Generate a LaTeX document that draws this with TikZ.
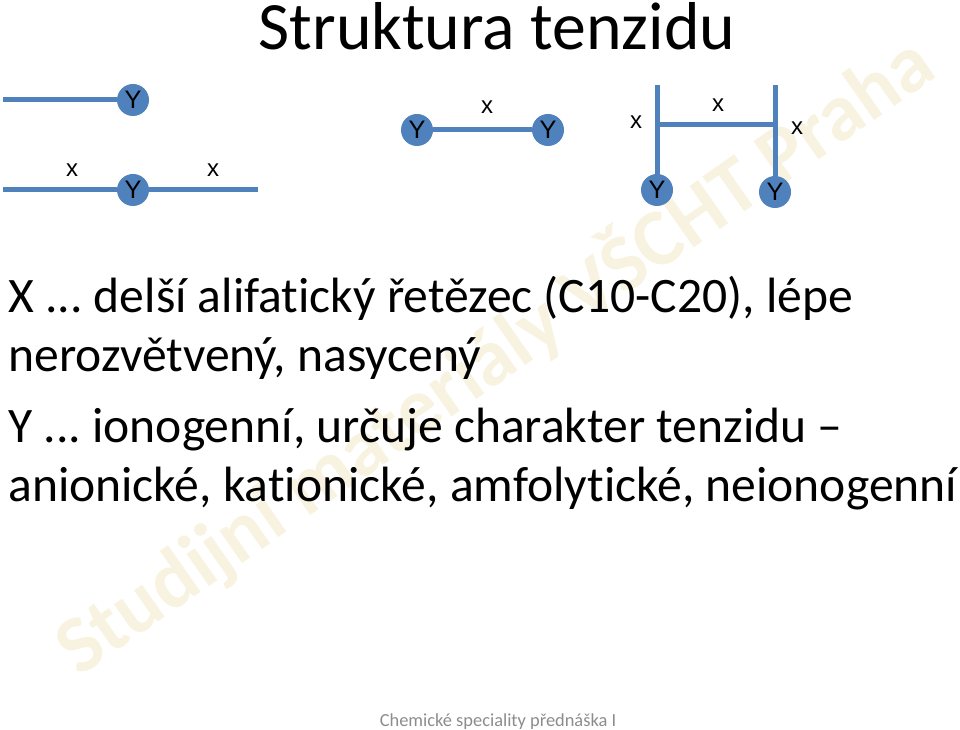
\documentclass[tikz,border=0pt]{standalone}
\usepackage{fontspec}
\setmainfont{Carlito}[Ligatures=NoCommon]
\newfontfamily\arialfont{Liberation Sans}
\usepackage{xcolor}
\usepackage{tikz}
\definecolor{chainblue}{HTML}{4F81BD}
\definecolor{stampyellow}{RGB}{248,243,224}
\definecolor{footgray}{RGB}{140,140,140}
\tikzset{>=stealth}
\tikzset{
  chain/.style={line width=3.75pt, chainblue},
  ybead/.style={circle, fill=chainblue, minimum size=24, inner sep=0pt, font=\arialfont\fontsize{19}{19}\selectfont},
  xlabel/.style={inner sep=0pt, font=\arialfont\fontsize{18}{18}\selectfont},
  bodyline/.style={anchor=base west, inner sep=0pt, font=\fontsize{37.2}{44}\selectfont}
}
\frenchspacing

\begin{document}
\begin{tikzpicture}[x=0.75pt, y=-0.75pt]
        \useasboundingbox (0,0) rectangle (960,730);
        % watermark
        \node[rotate=35, stampyellow, inner sep=0pt, font=\bfseries\fontsize{61}{64}\selectfont] (stamp) at (494,355) {Studijní materiály VŠCHT Praha};

        % title
        \node[anchor=base, inner sep=0pt, font=\fontsize{50.8}{60}\selectfont] (title) at (497,50) {Struktura tenzidu};

        % X-Y (single tail)
        \coordinate (tailA) at (3,100);
        \node[ybead] (headA) at (133,100) {Y};
        \draw [chain] (tailA) -- (headA);

        % X-Y-X
        \coordinate (tailB1) at (3,190);
        \coordinate (tailB2) at (258,190);
        \node[ybead] (headB) at (133,190) {Y};
        \draw [chain] (tailB1) -- (headB) -- (tailB2);
        \node[xlabel] (xB1) at (72,170) {x};
        \node[xlabel] (xB2) at (213,170) {x};

        % Y-X-Y
        \node[ybead] (headC1) at (417,130) {Y};
        \node[ybead] (headC2) at (548,130) {Y};
        \draw [chain] (headC1) -- (headC2);
        \node[xlabel] (xC) at (487,107) {x};

        % H shape
        \coordinate (topD1) at (657,85);
        \coordinate (topD2) at (775,85);
        \coordinate (midD1) at (657,125);
        \coordinate (midD2) at (775,125);
        \node[ybead] (headD1) at (657,190) {Y};
        \node[ybead] (headD2) at (775,192) {Y};
        \draw [chain] (topD1) -- (headD1);
        \draw [chain] (topD2) -- (headD2);
        \draw [chain] (midD1) -- (midD2);
        \node[xlabel] (xD1) at (636,122) {x};
        \node[xlabel] (xD2) at (718,105) {x};
        \node[xlabel] (xD3) at (797,128) {x};

        % text
        \node[bodyline] (lineX1) at (8,313) {X ... delší alifatický řetězec (C10-C20), lépe};
        \node[bodyline] (lineX2) at (8,372) {nerozvětvený, nasycený};
        \node[bodyline] (lineY1) at (8,443) {Y ... ionogenní, určuje charakter tenzidu –};
        \node[bodyline] (lineY2) at (8,502) {anionické, kationické, amfolytické, neionogenní};

        % footer
        \node[anchor=base, inner sep=0pt, footgray, font=\fontsize{13.8}{16}\selectfont] (foot) at (498,726) {Chemické speciality přednáška I};
      \end{tikzpicture}
\end{document}
